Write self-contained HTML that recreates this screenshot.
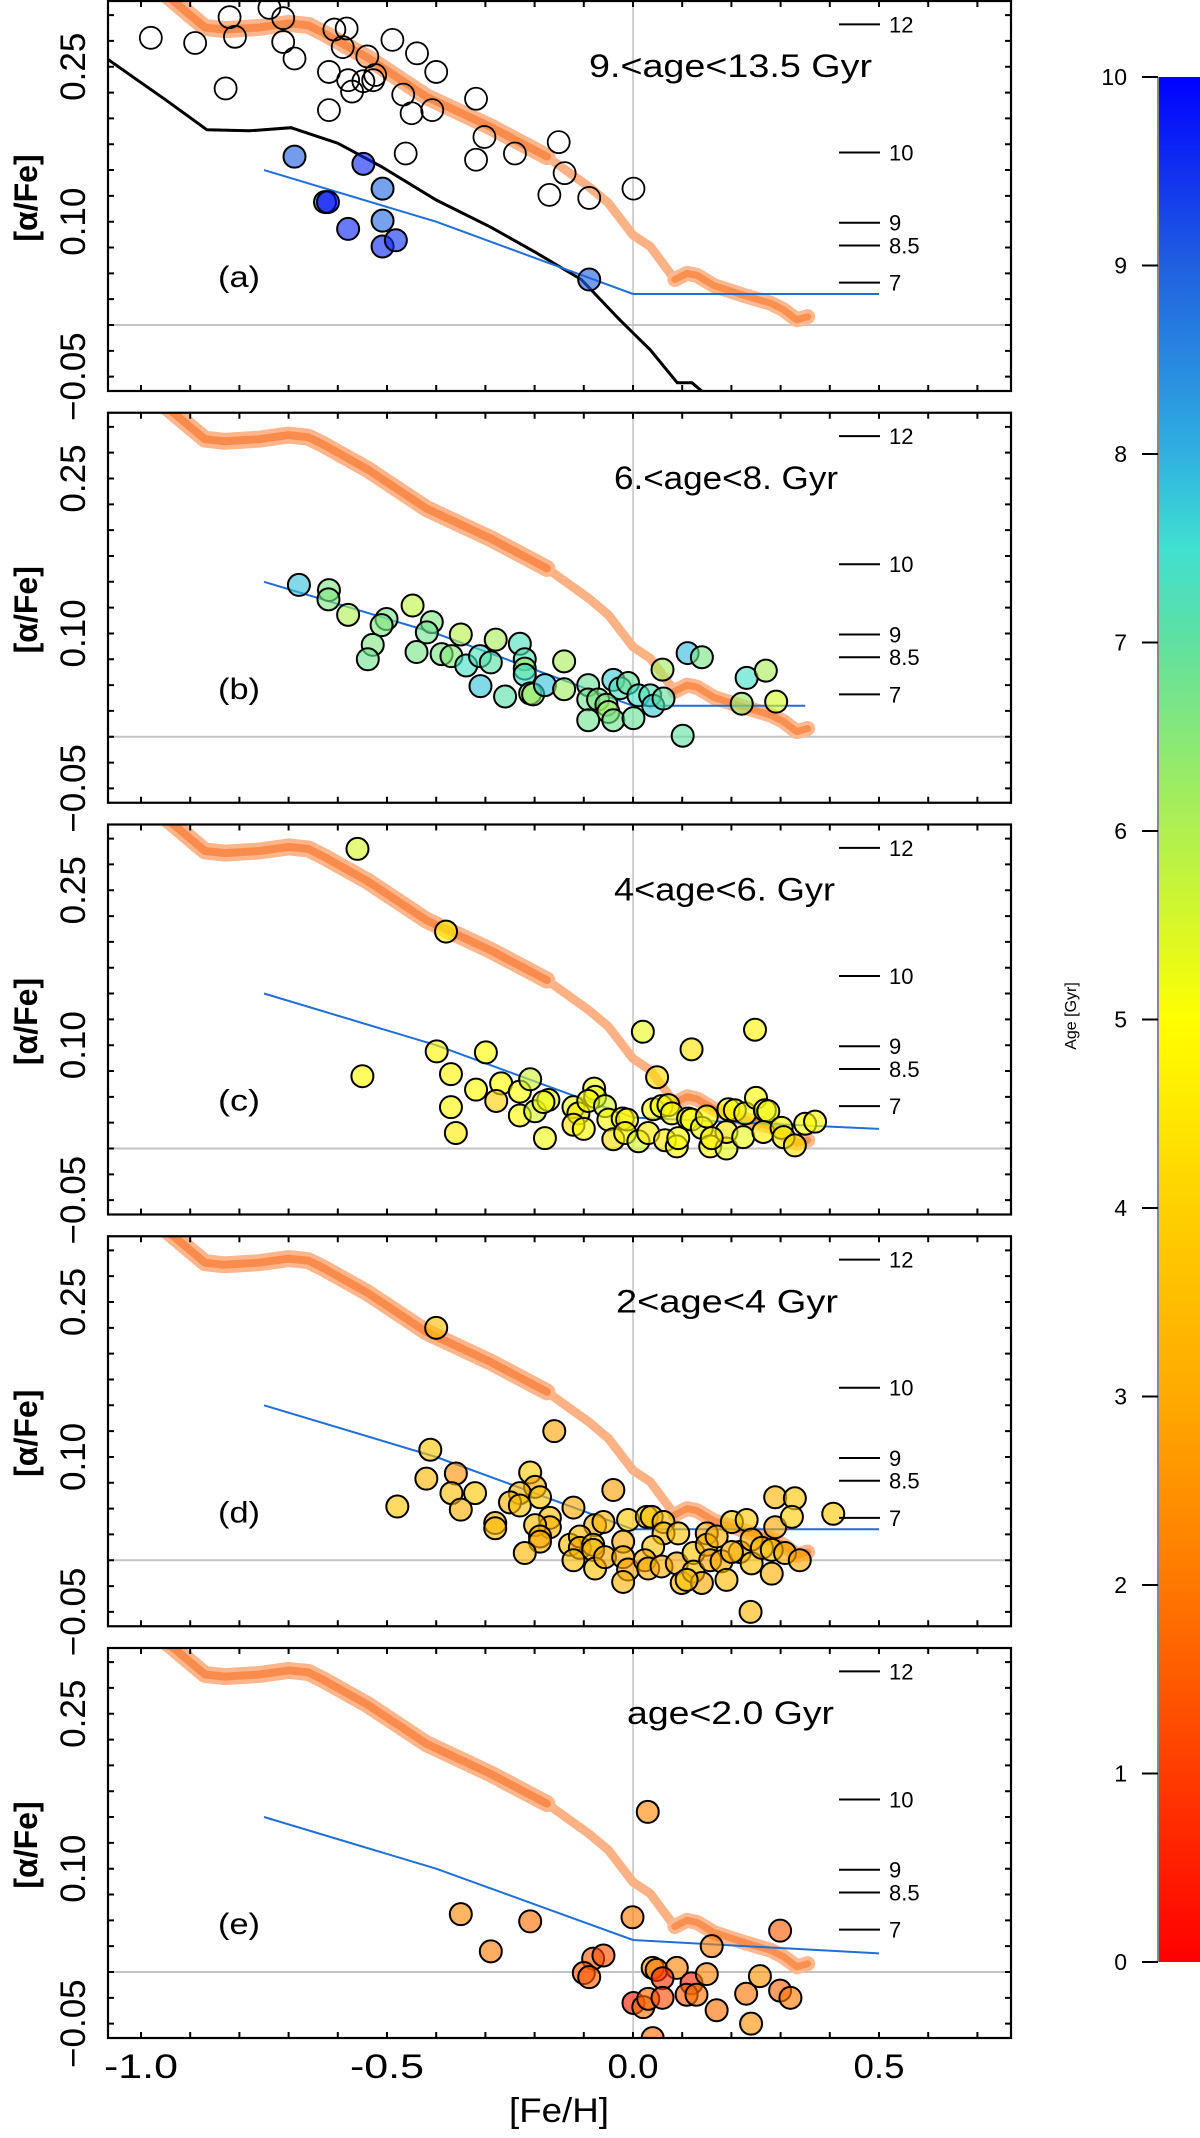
<!DOCTYPE html>
<html><head><meta charset="utf-8"><style>
html,body{margin:0;padding:0;background:#fff;}
svg{display:block;font-family:"Liberation Sans",Arial,sans-serif;}
</style></head><body>
<svg id="chart" width="1200" height="2138" viewBox="0 0 1200 2138" xmlns="http://www.w3.org/2000/svg">
<defs>
<linearGradient id="cbgrad" x1="0" y1="1" x2="0" y2="0">
<stop offset="0" stop-color="#ff0000"/><stop offset="0.1" stop-color="#ff3c00"/><stop offset="0.2" stop-color="#ff7800"/><stop offset="0.3" stop-color="#ffaa00"/><stop offset="0.4" stop-color="#ffd000"/><stop offset="0.5" stop-color="#ffff00"/><stop offset="0.6" stop-color="#b0f050"/><stop offset="0.7" stop-color="#60e0a0"/><stop offset="0.75" stop-color="#40e0d0"/><stop offset="0.8" stop-color="#30b0e0"/><stop offset="0.9" stop-color="#2060e0"/><stop offset="1" stop-color="#0000ff"/>
</linearGradient>
</defs>
<g id="panels"></g>
<g id="colorbar"></g>
</svg>
<script>
// ---- data ----
const cmapAge=[0,1,2,3,4,5,6,7,7.5,8,9,10];
const cmapCol=['#ff0000','#ff3c00','#ff7800','#ffaa00','#ffd000','#ffff00','#b0f050','#60e0a0','#40e0d0','#30b0e0','#2060e0','#0000ff'];
const xTicks=[-1.0,-0.5,0.0,0.5];
const xTickLabels=['-1.0','-0.5','0.0','0.5'];
const yTicks=[0.25,0.10,-0.05];
const yTickLabels=['0.25','0.10','\u22120.05'];
const ageMarkLabels=['12','10','9','8.5','7'];
const ageMarkAfe=[0.291,0.167,0.099,0.077,0.041];
const cbTicks=[0,1,2,3,4,5,6,7,8,9,10];
const orangeThickFeh=[-0.95,-0.90,-0.87,-0.83,-0.76,-0.70,-0.66,-0.63,-0.54,-0.42,-0.29,-0.175];
const orangeThickAfe=[0.32,0.30,0.288,0.286,0.288,0.292,0.290,0.283,0.259,0.221,0.192,0.163];
const orangeThinFeh=[-0.175,-0.09,-0.05,0.0,0.035,0.085];
const orangeThinAfe=[0.163,0.134,0.118,0.087,0.076,0.044];
const orangeTailFeh=[0.085,0.11,0.13,0.165,0.23,0.28,0.305,0.333,0.355];
const orangeTailAfe=[0.044,0.050,0.048,0.038,0.028,0.021,0.015,0.005,0.008];
const blackFeh=[-1.07,-0.95,-0.866,-0.78,-0.695,-0.60,-0.51,-0.40,-0.29,-0.197,-0.105,-0.027,0.035,0.09,0.12,0.145];
const blackAfe=[0.258,0.218,0.189,0.188,0.191,0.176,0.153,0.121,0.095,0.070,0.044,0.005,-0.024,-0.056,-0.056,-0.066];
const titles=['9.<age<13.5 Gyr','6.<age<8. Gyr','4<age<6. Gyr','2<age<4 Gyr','age<2.0 Gyr'];
const panelTags=['(a)','(b)','(c)','(d)','(e)'];
const blueFehA=[-0.75,-0.4,0,0.5], blueAfeA=[0.150,0.100,0.030,0.030];
const blueFehB=[-0.75,-0.4,0,0.35], blueAfeB=[0.150,0.100,0.030,0.030];
const blueFehC=[-0.75,-0.4,0,0.5], blueAfeC=[0.150,0.100,0.030,0.019];
const blueFehD=[-0.75,-0.4,0,0.5], blueAfeD=[0.150,0.100,0.030,0.030];
const blueFehE=[-0.75,-0.4,0,0.5], blueAfeE=[0.150,0.100,0.031,0.018];
const aOpenFeh=[-0.980,-0.890,-0.820,-0.809,-0.739,-0.711,-0.711,-0.688,-0.828,-0.618,-0.618,-0.607,-0.582,-0.590,-0.571,-0.579,-0.548,-0.540,-0.528,-0.524,-0.489,-0.467,-0.450,-0.439,-0.408,-0.400,-0.319,-0.302,-0.240,-0.319,-0.462,-0.151,-0.139,-0.170,-0.089,0.001];
const aOpenAfe=[0.278,0.273,0.298,0.279,0.307,0.297,0.274,0.258,0.229,0.245,0.208,0.286,0.287,0.269,0.226,0.237,0.236,0.260,0.237,0.242,0.276,0.223,0.205,0.263,0.208,0.245,0.219,0.182,0.166,0.160,0.166,0.177,0.147,0.126,0.123,0.132];
const aFeh=[-0.688,-0.548,-0.509,-0.626,-0.620,-0.509,-0.579,-0.509,-0.482,-0.089];
const aAfe=[0.163,0.156,0.132,0.119,0.119,0.101,0.093,0.076,0.082,0.044];
const aAge=[9.0,9.6,8.9,9.0,9.95,8.9,9.6,9.6,9.5,9.0];
const bFeh=[-0.679,-0.618,-0.619,-0.579,-0.501,-0.511,-0.529,-0.539,-0.448,-0.409,-0.419,-0.440,-0.389,-0.369,-0.350,-0.339,-0.311,-0.289,-0.279,-0.230,-0.220,-0.220,-0.220,-0.310,-0.260,-0.209,-0.203,-0.179,-0.140,-0.140,-0.091,-0.091,-0.071,-0.040,-0.026,-0.010,-0.054,-0.050,-0.091,-0.040,0.001,0.011,0.035,0.041,0.062,0.060,0.111,0.140,0.101,0.231,0.270,0.221,0.291];
const bAfe=[0.147,0.142,0.133,0.118,0.114,0.108,0.089,0.075,0.127,0.111,0.101,0.082,0.080,0.078,0.099,0.069,0.078,0.072,0.094,0.090,0.075,0.066,0.060,0.049,0.039,0.042,0.041,0.050,0.073,0.046,0.050,0.036,0.036,0.055,0.047,0.052,0.031,0.024,0.016,0.016,0.018,0.040,0.040,0.030,0.037,0.065,0.081,0.077,0.001,0.057,0.064,0.032,0.034];
const bAge=[7.8,6.6,6.6,6.0,6.7,6.6,6.6,6.8,5.8,6.6,6.8,6.7,6.7,6.5,5.9,7.4,7.3,7.1,6.1,7.3,7.2,6.2,7.5,7.8,7.1,6.4,6.3,7.8,6.1,6.2,6.9,6.8,6.6,7.7,7.3,6.9,6.6,6.2,6.8,6.8,6.9,7.4,7.2,7.7,7.0,6.2,7.9,6.7,7.0,7.4,6.1,6.3,5.5];
const cFeh=[-0.56,-0.38,0.020,0.248,0.119,-0.550,-0.399,-0.299,-0.370,-0.319,-0.268,-0.278,-0.230,-0.209,-0.370,-0.360,-0.230,-0.199,-0.179,-0.172,-0.182,-0.121,-0.111,-0.121,-0.100,-0.079,-0.077,-0.091,-0.057,-0.050,-0.040,-0.021,-0.012,-0.016,0.011,0.031,0.041,0.049,0.058,0.072,0.079,0.065,0.089,0.092,0.112,0.119,0.140,0.150,0.157,0.190,0.190,0.194,0.207,0.224,0.228,0.250,0.268,0.275,0.265,0.302,0.306,0.329,0.350,0.370,0.160];
const cAfe=[0.290,0.210,0.113,0.115,0.096,0.070,0.094,0.093,0.072,0.057,0.063,0.046,0.055,0.067,0.040,0.015,0.032,0.036,0.010,0.047,0.045,0.040,0.034,0.023,0.019,0.058,0.050,0.046,0.041,0.028,0.009,0.029,0.028,0.015,0.007,0.015,0.038,0.069,0.041,0.042,0.034,0.008,0.002,0.010,0.029,0.028,0.020,0.031,0.002,0.000,0.016,0.038,0.037,0.011,0.034,0.049,0.037,0.036,0.016,0.020,0.011,0.003,0.024,0.026,0.010];
const cAge=[5.5,4.8,5.3,4.8,4.4,4.9,4.8,4.9,4.8,5.0,5.0,4.0,5.0,5.6,4.8,4.6,4.9,5.5,5.2,5.3,5.2,5.3,4.5,4.4,5.0,5.1,5.3,5.0,5.5,5.1,4.3,5.0,4.7,4.8,5.5,4.5,5.0,4.3,5.2,4.8,4.9,4.6,4.9,5.0,4.9,5.0,5.1,4.9,4.9,5.3,4.4,5.0,4.9,5.3,5.1,4.9,4.9,5.2,4.6,4.8,4.6,4.4,5.0,4.9,4.7];
const dFeh=[-0.40,-0.160,-0.412,-0.420,-0.360,-0.369,-0.321,-0.350,-0.479,-0.209,-0.199,-0.230,-0.189,-0.250,-0.230,-0.280,-0.280,-0.169,-0.169,-0.199,-0.189,-0.189,-0.220,-0.121,-0.040,-0.077,-0.060,-0.128,-0.108,-0.108,-0.081,-0.081,-0.121,-0.077,-0.057,-0.020,-0.010,-0.020,-0.010,-0.020,0.028,0.038,0.062,0.062,0.092,0.041,0.024,0.031,0.058,0.089,0.099,0.123,0.123,0.140,0.150,0.150,0.170,0.157,0.180,0.190,0.201,0.231,0.217,0.241,0.241,0.262,0.282,0.289,0.282,0.289,0.329,0.323,0.309,0.339,0.407,0.239,0.109,0.201];
const dAfe=[0.225,0.125,0.107,0.079,0.084,0.065,0.065,0.049,0.052,0.085,0.071,0.065,0.061,0.056,0.053,0.036,0.031,0.041,0.032,0.034,0.023,0.018,0.007,0.051,0.068,0.034,0.037,0.015,0.023,0.012,0.015,0.010,0.000,-0.008,0.003,0.018,0.039,0.003,-0.009,-0.021,0.042,0.042,0.037,0.026,0.026,0.013,0.000,-0.008,-0.006,-0.003,-0.022,0.007,-0.011,-0.022,0.026,0.015,0.023,0.000,-0.001,-0.019,0.037,0.039,0.008,0.020,-0.003,0.012,0.010,0.032,-0.013,0.061,0.060,0.042,0.007,0.000,0.045,-0.050,-0.019,0.008];
const dAge=[3.5,2.9,3.7,3.3,2.5,3.5,3.7,3.1,3.7,3.9,3.0,3.3,3.7,3.2,3.6,3.2,3.4,3.5,3.2,3.4,3.0,3.1,3.3,3.0,2.8,3.1,3.3,3.5,3.4,3.0,3.7,3.3,3.5,3.6,3.0,3.0,3.8,3.0,2.9,3.2,3.4,3.6,3.4,3.5,3.6,3.6,3.1,3.0,3.1,3.0,3.4,3.7,3.4,3.0,3.0,3.2,3.2,3.0,3.0,3.4,3.7,3.8,3.3,3.1,3.5,3.2,3.6,2.9,3.1,3.3,3.7,3.9,3.2,3.0,3.8,3.3,3.6,3.1];
const eFeh=[-0.350,-0.209,-0.289,-0.001,-0.081,-0.060,-0.100,-0.089,0.299,0.160,0.040,0.048,0.089,0.060,0.119,0.150,0.258,0.001,0.021,0.031,0.060,0.109,0.129,0.170,0.230,0.299,0.320,0.240,0.040,0.030];
const eAfe=[0.056,0.049,0.020,0.053,0.013,0.016,-0.001,-0.005,0.040,0.025,0.004,0.002,0.004,-0.006,-0.011,-0.002,-0.004,-0.030,-0.034,-0.026,-0.025,-0.022,-0.022,-0.037,-0.021,-0.018,-0.025,-0.050,-0.064,0.155];
const eAge=[2.3,1.8,2.1,2.0,1.5,1.3,1.5,1.5,1.5,2.1,2.5,2.0,2.2,0.8,0.6,2.2,2.5,0.4,1.8,1.7,1.2,1.5,1.9,1.8,1.9,1.6,2.0,2.5,1.8,2.3];

// ---- geometry ----
const X0=633, XS=492, PTOP=1, PITCH=411.75, PH=390, Y0OFF=324, YS=1033, PL=108, PR=1011;
const NS='http://www.w3.org/2000/svg';
function X(v){return X0+XS*v;}
function Yf(top){return v=>top+Y0OFF-YS*v;}
function mk(tag,attrs,parent){const e=document.createElementNS(NS,tag);for(const k in attrs)e.setAttribute(k,attrs[k]);parent.appendChild(e);return e;}
function hex2rgb(h){return [parseInt(h.substr(1,2),16),parseInt(h.substr(3,2),16),parseInt(h.substr(5,2),16)];}
function ageColor(a){a=Math.max(0,Math.min(10,a));let i=0;while(i<cmapAge.length-2&&a>cmapAge[i+1])i++;
 const t=(a-cmapAge[i])/(cmapAge[i+1]-cmapAge[i]);const c1=hex2rgb(cmapCol[i]),c2=hex2rgb(cmapCol[i+1]);
 return 'rgb('+c1.map((c,k)=>Math.round(c+(c2[k]-c)*t)).join(',')+')';}
function pathD(xs,ys,Y){return xs.map((x,i)=>(i?'L':'M')+X(x).toFixed(1)+' '+Y(ys[i]).toFixed(1)).join(' ');}

const root=document.getElementById('panels');
const blues=[[blueFehA,blueAfeA],[blueFehB,blueAfeB],[blueFehC,blueAfeC],[blueFehD,blueAfeD],[blueFehE,blueAfeE]];
const pts=[[aFeh,aAfe,aAge],[bFeh,bAfe,bAge],[cFeh,cAfe,cAge],[dFeh,dAfe,dAge],[eFeh,eAfe,eAge]];
const letters=['a','b','c','d','e'];
const titleLen=[283,224,221,222,207];

for(let p=0;p<5;p++){
 const top=PTOP+PITCH*p; const Y=Yf(top);
 const g=mk('g',{},root);
 
 
 const cp=mk('clipPath',{id:'clip'+p},g);
 mk('rect',{x:PL,y:top,width:PR-PL,height:PH},cp);
 const plot=mk('g',{'clip-path':'url(#clip'+p+')'},g);
 // zero lines
 const hz=mk('line',{x1:PL,x2:PR,y1:Y(0),y2:Y(0),stroke:'#c4c4c4','stroke-width':2},plot);
 
 
 const vz=mk('line',{x1:X(0),x2:X(0),y1:top,y2:top+PH,stroke:'#c4c4c4','stroke-width':1.5},plot);
 
 
 // orange track
 const og=mk('g',{fill:'none','stroke-linecap':'round','stroke-linejoin':'round'},plot);
 
 
 mk('path',{d:pathD(orangeThinFeh,orangeThinAfe,Y),stroke:'#fcb285','stroke-width':9},og);
 mk('path',{d:pathD(orangeThickFeh,orangeThickAfe,Y),stroke:'#fdb68c','stroke-width':17},og);
 mk('path',{d:pathD(orangeThickFeh,orangeThickAfe,Y),stroke:'#f98c4c','stroke-width':8},og);
 mk('path',{d:pathD(orangeTailFeh,orangeTailAfe,Y),stroke:'#fdb890','stroke-width':15},og);
 mk('path',{d:pathD(orangeTailFeh,orangeTailAfe,Y),stroke:'#fa9050','stroke-width':7},og);
 if(p===0){
  const bl=mk('path',{d:pathD(blackFeh,blackAfe,Y),stroke:'#000',fill:'none','stroke-width':3},plot);
  
  
 }
 // blue line
 const bu=mk('path',{d:pathD(blues[p][0],blues[p][1],Y),stroke:'#1f6fd6',fill:'none','stroke-width':2},plot);
 
 
 // hollow points
 if(p===0){
  for(let i=0;i<aOpenFeh.length;i++){
   const c=mk('circle',{cx:X(aOpenFeh[i]),cy:Y(aOpenAfe[i]),r:11,fill:'none',stroke:'#000','stroke-width':1.8},plot);
   
   
  }
 }
 const [fx,fy,fa]=pts[p];
 for(let i=0;i<fx.length;i++){
  const c=mk('circle',{cx:X(fx[i]),cy:Y(fy[i]),r:11,fill:ageColor(fa[i]),'fill-opacity':0.62,stroke:'#000','stroke-width':2},plot);
  
  
 }
 // age marks
 for(let i=0;i<ageMarkLabels.length;i++){
  const y=Y(ageMarkAfe[i]);
  const l=mk('line',{x1:839,x2:880,y1:y,y2:y,stroke:'#000','stroke-width':2},g);
  
  
  const t=mk('text',{x:889,y:y+8,'font-size':22,fill:'#000'},g);
  t.textContent=ageMarkLabels[i];
  
  
 }
 // title
 const tt=mk('text',{x:[589,614,614,616,627][p],y:top+76,'font-size':32,textLength:titleLen[p],lengthAdjust:'spacingAndGlyphs',fill:'#000'},g);
 tt.textContent=titles[p];
 
 
 const tg=mk('text',{x:239,y:top+286,'font-size':30,'text-anchor':'middle',textLength:42,lengthAdjust:'spacingAndGlyphs',fill:'#000'},g);
 tg.textContent=panelTags[p];
 
 
 // frame
 const fr=mk('rect',{x:PL,y:top,width:PR-PL,height:PH,fill:'none',stroke:'#000','stroke-width':2.2},g);
 
 
 // ticks
 let td='';
 for(let k=-10;k<=7;k++){const x=X(k/10);if(x<PL+2||x>PR-2)continue;td+='M'+x+' '+(top+PH)+'v-6M'+x+' '+top+'v6';}
 for(let k=-2;k<=12;k++){const y=Y(k*0.025);if(y<top+2||y>top+PH-2)continue;td+='M'+PL+' '+y+'h6M'+PR+' '+y+'h-6';}
 const tk=mk('path',{d:td,stroke:'#000','stroke-width':2,fill:'none'},g);
 
 
 // y tick labels
 for(let i=0;i<yTicks.length;i++){
  const y=Y(yTicks[i]);
  const t=mk('text',{x:0,y:0,'font-size':35,'text-anchor':'middle',transform:'translate(85,'+y+') rotate(-90)',fill:'#000'},g);
  t.textContent=yTickLabels[i];
  
  
 }
 const yt=mk('text',{x:0,y:0,'font-size':32,'font-weight':'bold','text-anchor':'middle',transform:'translate(37,'+(top+197)+') rotate(-90)',fill:'#000'},g);
 yt.textContent='[\u03b1/Fe]';
 
 
}
// x axis labels
for(let i=0;i<xTicks.length;i++){
 const t=mk('text',{x:X(xTicks[i]),y:2078,'font-size':34,'text-anchor':'middle',textLength:xTickLabels[i].length>3?74:51,lengthAdjust:'spacingAndGlyphs',fill:'#000'},root);
 t.textContent=xTickLabels[i];
 
 
}
const xt=mk('text',{x:559,y:2122,'font-size':34,'text-anchor':'middle',textLength:100,lengthAdjust:'spacingAndGlyphs',fill:'#000'},root);
xt.textContent='[Fe/H]';



// colorbar
const cb=document.getElementById('colorbar');
const CBT=77, CBB=1962;
function CY(a){return CBB-(CBB-CBT)*a/10;}
const cr=mk('rect',{x:1158,y:CBT,width:42,height:CBB-CBT,fill:'url(#cbgrad)'},cb);


mk('line',{x1:1158,x2:1158,y1:CBT,y2:CBB,stroke:'#888','stroke-width':2},cb);
for(const a of cbTicks){
 const y=CY(a);
 mk('line',{x1:1142,x2:1158,y1:y,y2:y,stroke:'#000','stroke-width':2},cb);
 const t=mk('text',{x:1127,y:y+8,'font-size':23,'text-anchor':'end',fill:'#000'},cb);
 t.textContent=String(a);
 
 
}
const ct=mk('text',{x:0,y:0,'font-size':16,'text-anchor':'middle',transform:'translate(1076,1016) rotate(-90)',fill:'#000'},cb);
ct.textContent='Age [Gyr]';


</script>
</body></html>
